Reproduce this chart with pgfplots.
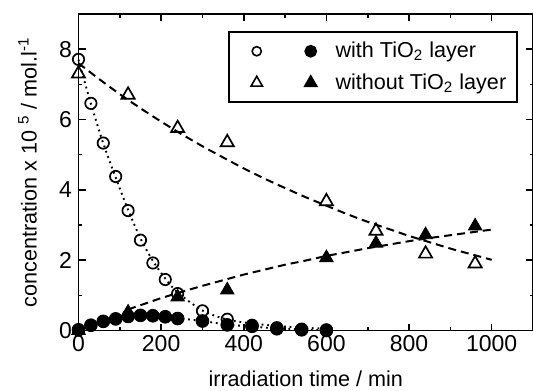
\documentclass[border=0pt]{standalone}
\usepackage{fontspec}
\setmainfont{Liberation Sans}
\usepackage{pgfplots}
\pgfplotsset{compat=1.18}
\begin{document}
\begin{tikzpicture}
\begin{axis}[
  scale only axis, width=227.25pt, height=158.25pt,
  xmin=0, xmax=1100, ymin=0, ymax=9,
  xtick={0,200,400,600,800,1000}, minor xtick={100,300,500,700,900},
  ytick={0,2,4,6,8}, minor ytick={1,3,5,7},
  tick align=inside, major tick length=3.5pt, minor tick length=1.75pt,
  every tick/.style={black, line width=0.8pt},
  axis line style={line width=0.95pt},
  tick label style={font=\fontsize{11.5}{13}\selectfont},
  xticklabel style={yshift=1pt},
  yticklabel style={xshift=0.3pt},
  label style={font=\fontsize{10.8}{12}\selectfont},
  /pgf/number format/assume math mode=true,
  /pgf/number format/1000 sep={},
  xlabel={irradiation time / min},
  ylabel={concentration x 10 \textsuperscript{5} / mol.l\textsuperscript{-1}},
  xlabel style={at={(axis description cs:0.5,0)}, anchor=center, yshift=-24pt},
  ylabel style={at={(axis description cs:-0.1122,0.5)}, anchor=center},
  clip=false,
  legend cell align=left,
  legend style={at={(0.967,0.946)}, anchor=north east, draw=black, line width=0.8pt,
    font=\fontsize{10.8}{12}\selectfont, inner xsep=3.5pt, inner ysep=3pt, row sep=2.5pt},
]
\coordinate (SW) at (rel axis cs:0,0);
\coordinate (NE) at (rel axis cs:1,1);
% fitted curves (dashed) - without TiO2
\addplot[forget plot, black, line width=1pt, dash pattern=on 4pt off 2.5pt, smooth] coordinates {
 (0,7.60) (50,7.15) (100,6.72) (150,6.32) (200,5.94) (250,5.58) (300,5.24) (350,4.92)
 (400,4.61) (450,4.32) (500,4.05) (550,3.79) (600,3.55) (650,3.31) (700,3.09) (750,2.89)
 (800,2.69) (850,2.51) (900,2.33) (950,2.17) (1000,2.01)};
\addplot[forget plot, black, line width=1pt, dash pattern=on 4pt off 2.5pt, smooth] coordinates {
 (120,0.60) (150,0.72) (200,0.92) (250,1.10) (300,1.27) (350,1.43) (400,1.59) (450,1.73)
 (500,1.87) (550,1.99) (600,2.12) (650,2.23) (700,2.34) (750,2.44) (800,2.54) (850,2.63)
 (900,2.71) (950,2.79) (1000,2.87)};
% fitted curves (dotted) - with TiO2
\addplot[forget plot, black, line width=0.95pt, dash pattern=on 0.9pt off 1.9pt, smooth] coordinates {
 (0,7.70) (30,6.45) (60,5.32) (90,4.35) (120,3.43) (150,2.62) (180,1.98) (210,1.48)
 (240,1.08) (300,0.57) (360,0.31) (420,0.20) (480,0.13) (540,0.08) (600,0.05)};
\addplot[forget plot, black, line width=0.95pt, dash pattern=on 0.9pt off 1.9pt, smooth] coordinates {
 (0,0.00) (30,0.15) (60,0.26) (90,0.34) (120,0.40) (150,0.43) (180,0.42) (210,0.39)
 (240,0.35) (300,0.27) (360,0.17) (420,0.11) (480,0.06) (540,0.03) (600,0.01)};
% data: with TiO2, open circles
\addplot[forget plot, only marks, mark=o, mark size=2.85pt, mark options={black, line width=0.85pt}] coordinates {
 (0,7.71) (30,6.46) (60,5.33) (90,4.38) (120,3.41) (150,2.57) (180,1.92) (210,1.45)
 (240,1.05) (300,0.56) (360,0.32) (420,0.15) (480,0.08) (540,0.04) (600,0.02)};
% without TiO2, open triangles
\addplot[forget plot, only marks, mark=triangle, mark size=3.8pt, mark options={black, line width=0.85pt}] coordinates {
 (0,7.30) (120,6.70) (240,5.75) (360,5.35) (600,3.67) (720,2.83) (840,2.18) (960,1.90)};
% with TiO2, filled circles
\addplot[forget plot, only marks, mark=*, mark size=3.2pt, mark options={black, fill=black}] coordinates {
 (0,0.02) (30,0.15) (60,0.26) (90,0.33) (120,0.40) (150,0.43) (180,0.42) (210,0.39)
 (240,0.34) (300,0.27) (360,0.16) (420,0.12) (480,0.05) (540,0.02) (600,0.00)};
% without TiO2, filled triangles
\addplot[forget plot, only marks, mark=triangle*, mark size=3.9pt, mark options={black, fill=black}] coordinates {
 (0,0.00) (120,0.52) (240,0.95) (360,1.15) (600,2.07) (720,2.48) (840,2.72) (960,2.97)};
% legend
\addlegendimage{legend image code/.code={
  \path (-10pt,0pt) (37pt,0pt);
  \draw[black, line width=0.8pt] (0pt,0pt) circle (2.3pt);
  \fill[black] (27pt,0pt) circle (2.8pt);}}
\addlegendentry{with TiO\textsubscript{2} layer}
\addlegendimage{legend image code/.code={
  \path (-10pt,0pt) (37pt,0pt);
  \draw[black, line width=0.8pt] plot[only marks, mark=triangle, mark size=3.3pt] coordinates {(0pt,0pt)};
  \fill[black] plot[only marks, mark=triangle*, mark size=3.5pt] coordinates {(27pt,0pt)};}}
\addlegendentry{without TiO\textsubscript{2} layer}
\end{axis}
\pgfresetboundingbox
\path[use as bounding box] ([xshift=-39.25pt,yshift=-29.75pt]SW) rectangle ([yshift=7pt]NE);
\end{tikzpicture}
\end{document}
